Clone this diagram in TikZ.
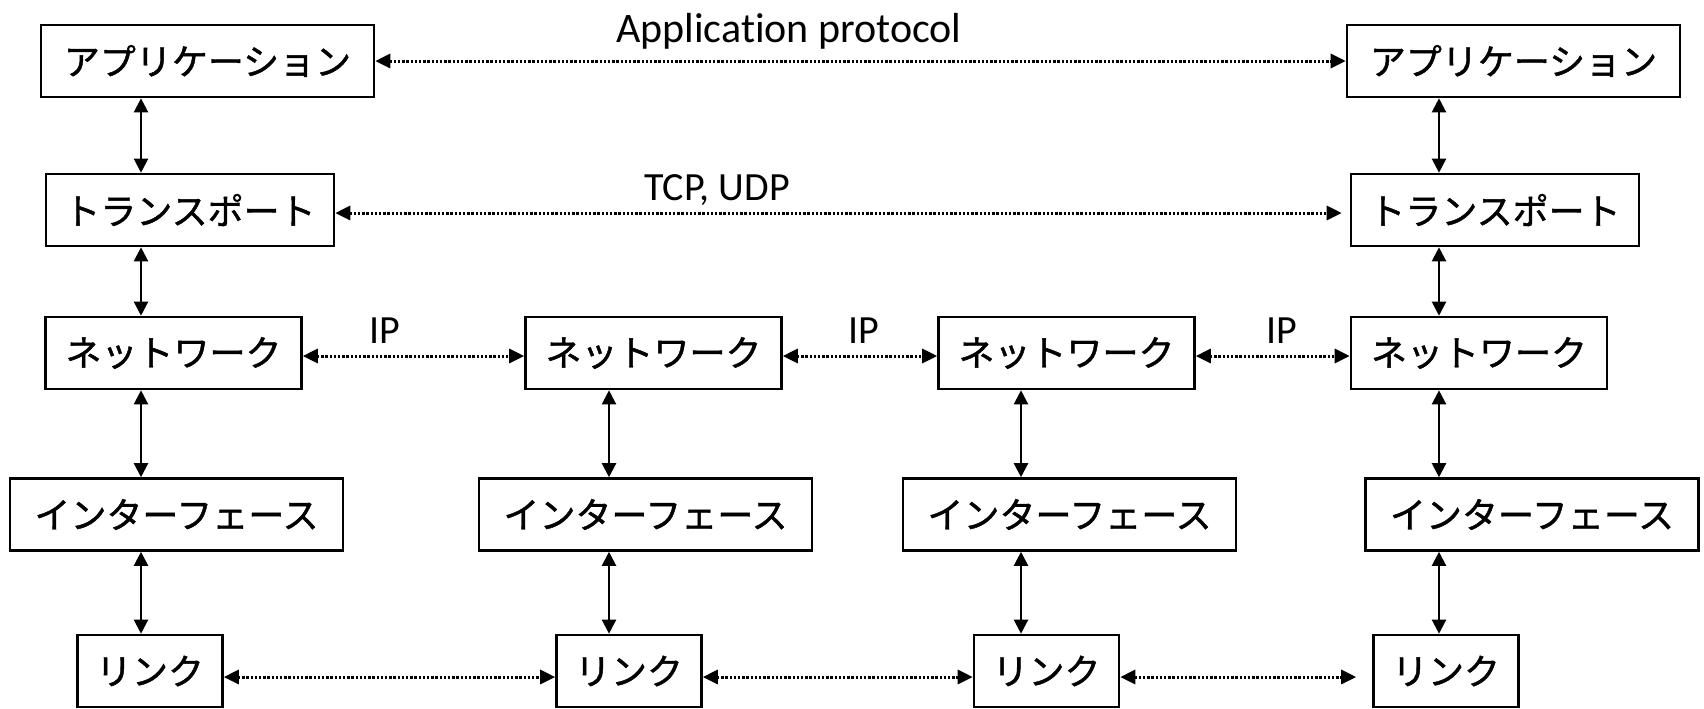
\documentclass[tikz,border=0pt]{standalone}
\usepackage{fontspec}
\setmainfont{Carlito}[Ligatures=NoCommon]
\newfontfamily\jpfont{Noto Sans CJK JP}[FakeBold=1.2]
\usetikzlibrary{arrows.meta,positioning}

\begin{document}
\begin{tikzpicture}[
      x=0.5pt,y=-0.5pt,
      every node/.style={font=\fontsize{20}{24}\selectfont},
      box/.style={draw,line width=1.3pt,inner sep=0pt,minimum height=36pt,
                  font=\jpfont\fontsize{18}{22}\selectfont},
      arr/.style={{Triangle[length=7pt,width=7pt]}-{Triangle[length=7pt,width=7pt]},
                  line width=1.1pt},
      darr/.style={{Triangle[length=7.5pt,width=7pt]}-{Triangle[length=7.5pt,width=7pt]},
                   line width=1.5pt,dash pattern=on 1.2pt off 0.9pt},
    ]
      \useasboundingbox (0,0) rectangle (1704,708);
      % x of the vertical arrows
      \coordinate (c1) at (141,0);
      \coordinate (c2) at (609,0);
      \coordinate (c3) at (1021,0);
      \coordinate (c4) at (1439,0);

      % hosts
      \node[box,minimum width=166.5pt] (app1) at (207.5,61)  {アプリケーション};
      \node[box,minimum width=166.5pt] (app2) at (1513.5,61) {アプリケーション};
      \node[box,minimum width=144pt]   (tr1)  at (190,210)   {トランスポート};
      \node[box,minimum width=144pt]   (tr2)  at (1495,210)  {トランスポート};

      \node[box,minimum width=128pt] (net1) at (173.5,353)  {ネットワーク};
      \node[box,minimum width=128pt] (net2) at (653.5,353)  {ネットワーク};
      \node[box,minimum width=128pt] (net3) at (1066.5,353) {ネットワーク};
      \node[box,minimum width=128pt] (net4) at (1479,353)   {ネットワーク};

      \node[box,minimum width=166.5pt] (if1) at (176.5,514.5)  {インターフェース};
      \node[box,minimum width=166.5pt] (if2) at (645.5,514.5)  {インターフェース};
      \node[box,minimum width=166.5pt] (if3) at (1069.5,514.5) {インターフェース};
      \node[box,minimum width=166.5pt] (if4) at (1532,514.5)   {インターフェース};

      \node[box,minimum width=72.5pt] (lnk1) at (150,671)    {リンク};
      \node[box,minimum width=72.5pt] (lnk2) at (629,671)    {リンク};
      \node[box,minimum width=72.5pt] (lnk3) at (1046.5,671) {リンク};
      \node[box,minimum width=72.5pt] (lnk4) at (1446,671)   {リンク};

      % protocol labels
      \node[anchor=base,font=\fontsize{21}{25}\selectfont] (aplbl) at (789,42) {Application protocol};
      \node[anchor=base] (tcplbl) at (717,200) {TCP, UDP};
      \node[anchor=base] (ip1) at (385,343)  {IP};
      \node[anchor=base] (ip2) at (864,343)  {IP};
      \node[anchor=base] (ip3) at (1282,343) {IP};

      % layers inside each host / router
      \draw[arr] (app1.south -| c1) -- (tr1.north -| c1);
      \draw[arr] (tr1.south -| c1)  -- (net1.north -| c1);
      \draw[arr] (net1.south -| c1) -- (if1.north -| c1);
      \draw[arr] (if1.south -| c1)  -- (lnk1.north -| c1);

      \draw[arr] (net2.south -| c2) -- (if2.north -| c2);
      \draw[arr] (if2.south -| c2)  -- (lnk2.north -| c2);

      \draw[arr] (net3.south -| c3) -- (if3.north -| c3);
      \draw[arr] (if3.south -| c3)  -- (lnk3.north -| c3);

      \draw[arr] (app2.south -| c4) -- (tr2.north -| c4);
      \draw[arr] (tr2.south -| c4)  -- (net4.north -| c4);
      \draw[arr] (net4.south -| c4) -- (if4.north -| c4);
      \draw[arr] (if4.south -| c4)  -- (lnk4.north -| c4);

      % peer to peer
      \draw[darr] (app1) -- (app2);
      \draw[darr] ([yshift=-1.5pt]tr1.east) -- ([yshift=-1.5pt,xshift=-4pt]tr2.west);
      \draw[darr] ([yshift=-1.5pt]net1.east) -- ([yshift=-1.5pt]net2.west);
      \draw[darr] ([yshift=-1.5pt]net2.east) -- ([yshift=-1.5pt]net3.west);
      \draw[darr] ([yshift=-1.5pt]net3.east) -- ([yshift=-1.5pt]net4.west);
      \draw[darr] ([yshift=-3pt]lnk1.east) -- ([yshift=-3pt]lnk2.west);
      \draw[darr] ([yshift=-3pt]lnk2.east) -- ([yshift=-3pt]lnk3.west);
      \draw[darr,shorten >=8pt] ([yshift=-3pt]lnk3.east) -- ([yshift=-3pt]lnk4.west);
    \end{tikzpicture}
\end{document}
